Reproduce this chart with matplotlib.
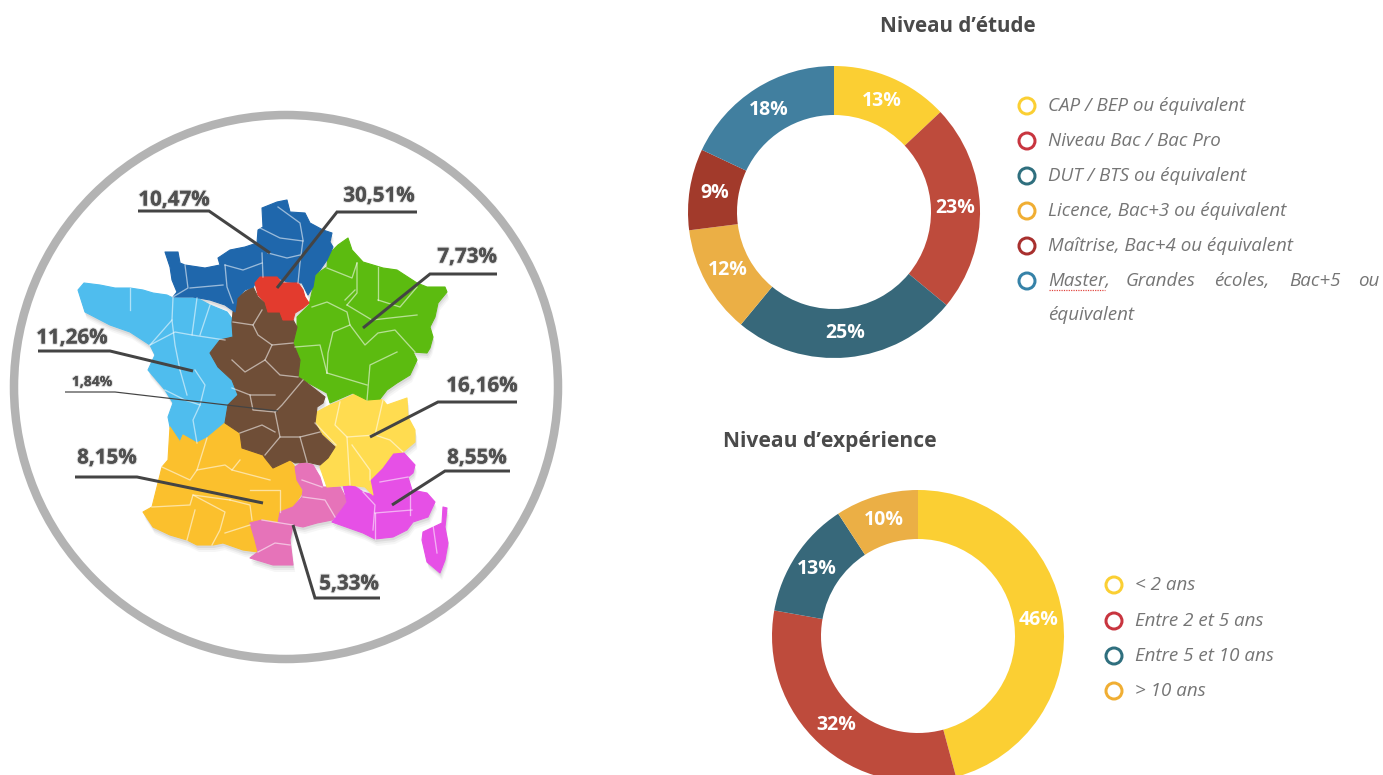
import matplotlib
matplotlib.use("Agg")
import numpy as np
import matplotlib.pyplot as plt
from matplotlib.patches import Polygon, Circle
import matplotlib.patheffects as pe

W, H = 1383, 775

# donut data
etude_values = [13, 23, 25, 12, 9, 18]
etude_labels = ["13%", "23%", "25%", "12%", "9%", "18%"]
etude_colors = ["#FBCF33", "#BE4B3C", "#37687A", "#EBAF45", "#A23A2B", "#417F9F"]
etude_legend = ["CAP / BEP ou équivalent", "Niveau Bac / Bac Pro", "DUT / BTS ou équivalent",
                "Licence, Bac+3 ou équivalent", "Maîtrise, Bac+4 ou équivalent"]
etude_rings = ["#FBCF33", "#C8353F", "#2F6F7E", "#F0AE33", "#A8302E", "#3682A8"]

exp_values = [45.8, 32, 13, 9.2]
exp_labels = ["46%", "32%", "13%", "10%"]
exp_colors = ["#FBCF33", "#BE4B3C", "#37687A", "#EBAF45"]
exp_legend = ["< 2 ans", "Entre 2 et 5 ans", "Entre 5 et 10 ans", "> 10 ans"]
exp_rings = ["#FBCF33", "#C8353F", "#2F6F7E", "#F0AE33"]

# map outlines, traced in image pixels
blue_north = [(165,252),(178,252),(180,263),(185,265),(205,268),(220,265),(218,258),(230,250),(245,247),
              (257,243),(258,230),(263,227),(262,208),(277,202),(287,200),(290,212),(305,213),(310,223),
              (323,230),(332,233),(330,242),(333,247),(327,260),(320,270),(315,275),(313,287),(308,295),
              (302,283),(287,282),(278,278),(260,277),(253,287),(245,290),(237,298),(235,312),(225,305),
              (210,300),(193,297),(173,297),(177,292),(172,280),(170,267)]
red_idf = [(255,283),(260,277),(277,277),(282,283),(298,283),(303,290),(305,297),(309,303),(303,308),
           (295,313),(293,320),(283,320),(280,312),(268,312),(265,302),(258,295)]
green_east = [(327,267),(328,255),(338,245),(348,238),(352,250),(363,262),(373,265),(383,268),(397,270),
              (417,283),(427,287),(445,287),(447,292),(438,303),(435,317),(430,327),(433,337),(430,348),
              (427,353),(413,352),(417,360),(410,375),(397,383),(387,390),(380,399),(367,400),(353,393),
              (330,403),(327,393),(303,380),(298,377),(300,360),(293,343),(297,327),(297,317),(309,305),
              (312,292),(315,275)]
brown_center = [(233,312),(237,298),(245,292),(253,287),(258,297),(265,303),(268,312),(280,312),(283,320),
                (293,320),(297,327),(293,343),(300,360),(298,377),(303,380),(325,397),(323,403),(317,407),
                (315,423),(322,435),(335,447),(328,458),(320,465),(307,462),(295,463),(290,460),(273,468),
                (265,458),(263,455),(242,448),(240,433),(225,423),(228,405),(238,395),(232,380),(218,367),
                (210,353),(220,340),(233,337),(232,323)]
yellow_ra = [(315,413),(330,405),(338,402),(357,393),(363,397),(383,400),(387,405),(407,398),(408,417),
             (415,430),(415,442),(403,452),(393,453),(382,468),(370,480),(373,495),(365,487),(350,485),
             (327,487),(320,467),(330,450),(336,445),(320,433),(315,423)]
magenta_paca = [(393,453),(403,452),(415,465),(413,473),(408,477),(412,490),(427,493),(435,502),(428,517),
                (413,522),(407,530),(393,537),(375,539),(363,533),(332,522),(343,508),(347,502),(343,485),
                (350,483),(363,492),(373,495),(370,478),(382,468)]
magenta_corse = [(443,507),(447,508),(445,527),(448,543),(445,560),(440,573),(427,562),(422,540),(423,532),(442,523)]
pink_lr = [(295,467),(302,462),(313,465),(320,477),(323,487),(340,487),(347,500),(343,508),(332,520),(317,523),
           (303,527),(293,525),(290,540),(293,565),(273,565),(250,558),(258,552),(255,540),(250,523),(262,520),
           (278,523),(280,512),(293,507),(302,497),(303,490),(297,480)]
orange_so = [(170,427),(180,442),(183,435),(197,443),(207,438),(225,423),(240,433),(242,448),(263,455),(265,458),
             (273,468),(290,460),(295,467),(297,480),(303,492),(293,507),(280,512),(278,523),(262,520),(250,523),
             (255,540),(258,552),(243,550),(223,543),(213,545),(197,545),(187,540),(170,535),(153,527),(143,512),
             (152,507),(162,467),(168,460)]
sky_ouest = [(78,290),(84,283),(100,285),(115,288),(130,288),(143,290),(153,293),(167,295),(173,298),(197,298),
             (210,305),(227,312),(233,320),(233,337),(220,340),(210,353),(218,367),(232,380),(238,395),(228,405),
             (225,423),(207,438),(197,443),(183,435),(180,442),(170,427),(168,417),(173,403),(165,390),(148,370),
             (155,355),(150,345),(130,332),(110,325),(85,312)]

map_regions = [sky_ouest, orange_so, pink_lr, magenta_paca, magenta_corse, yellow_ra, green_east, brown_center, blue_north, red_idf]
map_colors = ["#4FBDEE", "#FBC02D", "#E673B9", "#E650E6", "#E650E6", "#FFDC50", "#5CBB10", "#6F4E37", "#1F67AC", "#E33B2E"]

# department borders
dept_lines = [
    [(278,207),(300,223),(303,240),(300,263),(298,283)], [(260,228),(280,238),(303,241)], [(268,253),(287,258),(300,255)],
    [(262,253),(263,277)], [(225,265),(227,287),(233,303)], [(225,265),(243,270),(262,263)], [(185,265),(188,288),(173,297)],
    [(190,288),(223,285)],
    [(327,268),(352,278),(357,263)], [(357,263),(357,293),(347,305)], [(378,267),(378,300)], [(312,307),(327,302),(347,312),(350,325),(333,332),(328,353),(327,373)],
    [(350,325),(365,345),(378,333),(395,330),(415,352)], [(378,300),(400,307),(417,287)], [(347,305),(372,320),(417,315)], [(295,347),(320,345),(327,373)],
    [(367,400),(370,365),(397,352)], [(327,373),(367,385)], [(345,300),(355,290)],
    [(233,322),(253,325),(262,310)], [(253,325),(258,335),(272,345),(293,343)], [(272,345),(265,360),(245,372),(232,360)], [(265,360),(280,375),(298,377)],
    [(232,388),(250,395),(275,395)], [(250,395),(253,410),(275,412),(282,405),(303,380)], [(275,412),(280,437),(265,455)], [(280,437),(300,437),(320,432)],
    [(300,437),(307,462)], [(240,433),(262,425),(275,432)],
    [(173,298),(172,320),(150,345)], [(130,288),(130,310)], [(197,298),(192,335),(225,340)], [(210,305),(200,335)], [(150,345),(175,332),(192,335)],
    [(172,320),(175,345),(180,370)], [(195,370),(205,385),(200,405),(193,420),(197,443)], [(165,390),(185,400),(200,405)], [(180,370),(187,395)],
    [(340,402),(335,425),(347,437),(350,485)], [(347,437),(375,435),(390,440),(403,452)], [(315,423),(336,445)], [(375,435),(383,400)], [(352,445),(370,470),(370,480)],
    [(363,492),(375,505),(373,530)], [(375,513),(412,510)], [(380,482),(408,477)], [(375,513),(375,539)], [(410,490),(410,515)], [(433,525),(437,553)],
    [(302,480),(322,487)], [(303,497),(325,500),(335,517)], [(293,525),(262,520)], [(258,552),(275,543),(290,545)],
    [(162,467),(190,480),(197,470),(207,438)], [(197,470),(225,465),(232,470),(240,460)], [(232,470),(270,480)], [(152,507),(190,505),(193,495),(230,500)],
    [(195,510),(187,540)], [(193,495),(225,512),(220,530),(212,545)], [(230,500),(250,505),(252,520)], [(225,533),(250,525)], [(250,490),(280,490),(280,512)],
]

# percentage labels with their leader lines
map_labels = ["10,47%", "30,51%", "7,73%", "11,26%", "1,84%", "16,16%", "8,55%", "8,15%", "5,33%"]
label_xy = [(174,200), (379,196), (467,257), (72,338), (92,382), (482,386), (477,458), (107,458), (349,584)]
leader_lines = [
    [(138,211),(209,211),(270,253)],
    [(417,212),(337,212),(277,288)],
    [(497,274),(430,274),(363,328)],
    [(38,351),(110,351),(193,371)],
    [(65,392),(115,392),(278,411)],
    [(517,402),(438,402),(370,437)],
    [(510,471),(445,471),(392,505)],
    [(75,477),(137,477),(263,503)],
    [(380,598),(315,598),(293,525)],
]
leader_widths = [3, 3, 3, 3, 1.2, 3, 3, 3, 3]

px = 72 / 100  # one image pixel in points at dpi 100
FONT = "Open Sans"

fig = plt.figure(figsize=(W / 100, H / 100), dpi=100, facecolor="white")
ax = fig.add_axes([0, 0, 1, 1])
ax.set_xlim(0, W)
ax.set_ylim(H, 0)
ax.axis("off")

# big grey ring
ax.add_patch(Circle((286, 387), 272, fill=False, ec="#B3B3B3", lw=8.5 * px))

# map drop shadow then regions
for pts, col in zip(map_regions, map_colors):
    arr = np.array(pts, dtype=float)
    for off, a in [(7, 0.05), (5, 0.07), (3, 0.10)]:
        ax.add_patch(Polygon(arr + [off * 0.3, off], closed=True, fc="#555555", ec="none", alpha=a, zorder=2))
for pts, col in zip(map_regions, map_colors):
    ax.add_patch(Polygon(pts, closed=True, fc=col, ec=col, lw=0.8, joinstyle="round", zorder=3))
for seg in dept_lines:
    arr = np.array(seg)
    ax.plot(arr[:, 0], arr[:, 1], color="white", lw=1.3 * px, alpha=0.55, solid_joinstyle="round", zorder=4)

# labels on the map
for line, lw in zip(leader_lines, leader_widths):
    arr = np.array(line)
    ax.plot(arr[:, 0], arr[:, 1], color="#444444", lw=lw * px, solid_capstyle="butt", solid_joinstyle="miter", zorder=5)
for txt, (x, y) in zip(map_labels, label_xy):
    size = 10 if txt == "1,84%" else 14.8
    ax.text(x, y, txt, family=FONT, weight="bold", fontsize=size, color="#505050", ha="center", va="center", zorder=6,
            path_effects=[pe.withStroke(linewidth=1.6, foreground="#CCCCCC", alpha=0.7), pe.Normal()])

# titles
ax.text(958, 26, "Niveau d’étude", family=FONT, weight="bold", fontsize=14.9, color="#4A4A4A", ha="center", va="center")
ax.text(830, 441, "Niveau d’expérience", family=FONT, weight="bold", fontsize=15.1, color="#4A4A4A", ha="center", va="center")


def donut(cx, cy, values, colors, labels):
    R, width = 146, 49
    d_ax = fig.add_axes([(cx - R) / W, 1 - (cy + R) / H, 2 * R / W, 2 * R / H])
    wedges, _ = d_ax.pie(values, colors=colors, startangle=90, counterclock=False, radius=1,
                         wedgeprops=dict(width=width / R, linewidth=0))
    d_ax.set_xlim(-1, 1)
    d_ax.set_ylim(-1, 1)
    d_ax.set_aspect("equal")
    d_ax.axis("off")
    for w, lab in zip(wedges, labels):
        ang = np.deg2rad((w.theta1 + w.theta2) / 2)
        d_ax.text(0.83 * np.cos(ang), 0.83 * np.sin(ang), lab, family=FONT, weight="bold",
                  fontsize=14, color="white", ha="center", va="center", clip_on=False)


def ring(x, y, col):
    ax.add_patch(Circle((x, y), 8, fill=False, ec=col, lw=3 * px))


donut(834, 212, etude_values, etude_colors, etude_labels)
donut(918, 636, exp_values, exp_colors, exp_labels)

# legends
leg_style = dict(family=FONT, style="italic", fontsize=13.5, color="#757575", va="center")
etude_rows = [105, 140, 175, 210, 245, 280]
for y, col in zip(etude_rows, etude_rings):
    ring(1027, y + 1, col)
for y, txt in zip(etude_rows, etude_legend):
    ax.text(1048, y + 1, txt, **leg_style)
# justified line of the last entry
for x, word in zip([1048, 1126, 1214, 1289, 1358], ["Master,", "Grandes", "écoles,", "Bac+5", "ou"]):
    ax.text(x, 281, word, **leg_style)
ax.text(1048, 315, "équivalent", **leg_style)
ax.plot([1049, 1105], [290, 290], color="#E0403A", lw=1.2 * px, ls=(0, (1, 1)))

exp_rows = [584, 620, 655, 690]
for y, col, txt in zip(exp_rows, exp_rings, exp_legend):
    ring(1114, y + 1, col)
    ax.text(1135, y + 1, txt, **leg_style)

fig.savefig("out.png", dpi=100, facecolor="white")
